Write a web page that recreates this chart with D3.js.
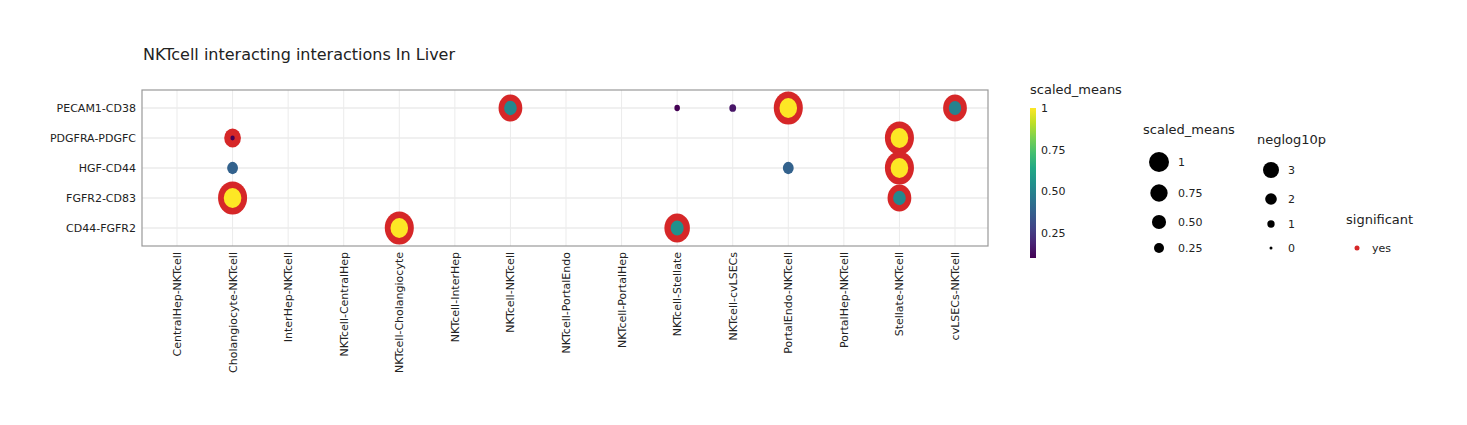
<!DOCTYPE html>
<html lang="en">
<head>
<meta charset="utf-8">
<script src="https://d3js.org/d3.v7.min.js"></script>
<style>
body { margin: 0; background: #fff; font-family: "DejaVu Sans", sans-serif; }
text { fill: #222; }
</style>
</head>
<body>
<script>
// categories
var pairs = ["CentralHep-NKTcell","Cholangiocyte-NKTcell","InterHep-NKTcell","NKTcell-CentralHep",
  "NKTcell-Cholangiocyte","NKTcell-InterHep","NKTcell-NKTcell","NKTcell-PortalEndo","NKTcell-PortalHep",
  "NKTcell-Stellate","NKTcell-cvLSECs","PortalEndo-NKTcell","PortalHep-NKTcell","Stellate-NKTcell","cvLSECs-NKTcell"];
var interactions = ["PECAM1-CD38","PDGFRA-PDGFC","HGF-CD44","FGFR2-CD83","CD44-FGFR2"];

// points: pair, interaction, scaled mean, -log10 p
var ptPair = ["NKTcell-NKTcell","NKTcell-Stellate","NKTcell-cvLSECs","PortalEndo-NKTcell","cvLSECs-NKTcell",
  "Cholangiocyte-NKTcell","Stellate-NKTcell",
  "Cholangiocyte-NKTcell","PortalEndo-NKTcell","Stellate-NKTcell",
  "Cholangiocyte-NKTcell","Stellate-NKTcell",
  "NKTcell-Cholangiocyte","NKTcell-Stellate"];
var ptInter = ["PECAM1-CD38","PECAM1-CD38","PECAM1-CD38","PECAM1-CD38","PECAM1-CD38",
  "PDGFRA-PDGFC","PDGFRA-PDGFC",
  "HGF-CD44","HGF-CD44","HGF-CD44",
  "FGFR2-CD83","FGFR2-CD83",
  "CD44-FGFR2","CD44-FGFR2"];
var ptMean = [0.52, 0.1, 0.15, 1, 0.5, 0.06, 1, 0.38, 0.38, 1, 1, 0.52, 1, 0.55];
var ptLogp = [2.4, 0, 0, 3, 2.4, 1.6, 3, 0, 0, 3, 3, 2.4, 3, 2.6];

var meanTicks = [1, 0.75, 0.5, 0.25];
var meanTickLabels = ["1", "0.75", "0.50", "0.25"];
var logpTicks = [3, 2, 1, 0];

var w = 1467, h = 425;
var svg = d3.select("body").append("svg").attr("width", w).attr("height", h);

var px0 = 142, px1 = 988, py0 = 90, py1 = 246;
var x = d3.scalePoint().domain(pairs).range([177, 955]);
var y = d3.scalePoint().domain(interactions).range([108, 228]);
var color = d3.scaleSequential(d3.interpolateViridis).domain([0.1, 1]);
var rMean = d3.scaleSqrt().domain([0, 1]).range([0, 10]);
var rRing = d3.scaleLinear().domain([0, 3]).range([1.5, 16.5]);
var sx = 0.88; // points look slightly squashed horizontally

svg.append("text").attr("x", 143).attr("y", 60).attr("font-size", 16).text("NKTcell interacting interactions In Liver");

// grid
svg.selectAll(".vg").data(pairs).enter().append("line")
  .attr("x1", d => x(d)).attr("x2", d => x(d)).attr("y1", py0).attr("y2", py1)
  .attr("stroke", "#ebebeb").attr("stroke-width", 1);
svg.selectAll(".hg").data(interactions).enter().append("line")
  .attr("x1", px0).attr("x2", px1).attr("y1", d => y(d)).attr("y2", d => y(d))
  .attr("stroke", "#ebebeb").attr("stroke-width", 1.5);
svg.append("rect").attr("x", px0).attr("y", py0).attr("width", px1 - px0).attr("height", py1 - py0)
  .attr("fill", "none").attr("stroke", "#999").attr("stroke-width", 1.2);

var pts = ptPair.map((p, i) => ({p: p, q: ptInter[i], m: ptMean[i], l: ptLogp[i]}));
// significance rings
svg.selectAll(".ring").data(pts.filter(d => d.l > 0)).enter().append("ellipse")
  .attr("cx", d => x(d.p)).attr("cy", d => y(d.q))
  .attr("rx", d => rRing(d.l) * sx).attr("ry", d => rRing(d.l))
  .attr("fill", "#d62728");
svg.selectAll(".dot").data(pts).enter().append("ellipse")
  .attr("cx", d => x(d.p)).attr("cy", d => y(d.q))
  .attr("rx", d => rMean(d.m) * sx).attr("ry", d => rMean(d.m))
  .attr("fill", d => color(d.m));

// y axis labels
svg.selectAll(".yl").data(interactions).enter().append("text")
  .attr("x", 136).attr("y", d => y(d) + 4).attr("text-anchor", "end").attr("font-size", 11).text(d => d);
// x axis labels
svg.selectAll(".xl").data(pairs).enter().append("text")
  .attr("transform", d => "translate(" + (x(d) + 4) + "," + (py1 + 6) + ") rotate(-90)")
  .attr("text-anchor", "end").attr("font-size", 11).text(d => d);

// colorbar
svg.append("text").attr("x", 1030).attr("y", 94).attr("font-size", 13).text("scaled_means");
var cy = d3.scaleLinear().domain([0.1, 1]).range([258, 108]);
var defs = svg.append("defs");
var grad = defs.append("linearGradient").attr("id", "vir").attr("x1", 0).attr("x2", 0).attr("y1", 1).attr("y2", 0);
d3.range(0, 1.01, 0.1).forEach(t => grad.append("stop").attr("offset", t).attr("stop-color", d3.interpolateViridis(t)));
svg.append("rect").attr("x", 1030).attr("y", 108).attr("width", 6).attr("height", 150).attr("fill", "url(#vir)");
svg.selectAll(".ct").data(meanTicks).enter().append("text")
  .attr("x", 1041).attr("y", d => cy(d) + 4).attr("font-size", 11).text((d, i) => meanTickLabels[i]);

// size legend: scaled_means
svg.append("text").attr("x", 1143).attr("y", 134).attr("font-size", 13).text("scaled_means");
var lyMean = [162, 193, 222, 248];
svg.selectAll(".ms").data(meanTicks).enter().append("circle")
  .attr("cx", 1159).attr("cy", (d, i) => lyMean[i]).attr("r", d => rMean(d)).attr("fill", "#000");
svg.selectAll(".mt").data(meanTicks).enter().append("text")
  .attr("x", 1178).attr("y", (d, i) => lyMean[i] + 4).attr("font-size", 11).text((d, i) => meanTickLabels[i]);

// size legend: neglog10p
svg.append("text").attr("x", 1257).attr("y", 144).attr("font-size", 13).text("neglog10p");
var lyP = [170, 199, 224, 248];
var rLeg = d3.scaleLinear().domain([0, 3]).range([1.5, 8]);
svg.selectAll(".ps").data(logpTicks).enter().append("circle")
  .attr("cx", 1271).attr("cy", (d, i) => lyP[i]).attr("r", d => rLeg(d)).attr("fill", "#000");
svg.selectAll(".pt").data(logpTicks).enter().append("text")
  .attr("x", 1288).attr("y", (d, i) => lyP[i] + 4).attr("font-size", 11).text(d => d);

// significant legend
svg.append("text").attr("x", 1346).attr("y", 224).attr("font-size", 13).text("significant");
svg.append("circle").attr("cx", 1357).attr("cy", 248).attr("r", 2.5).attr("fill", "#d62728");
svg.append("text").attr("x", 1372).attr("y", 252).attr("font-size", 11).text("yes");
</script>
</body>
</html>
